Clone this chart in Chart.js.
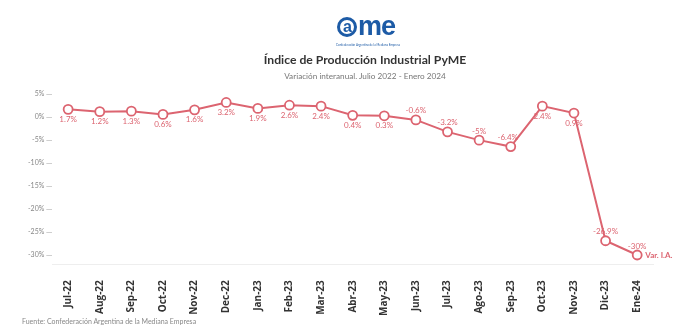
<!DOCTYPE html>
<html>
<head>
<meta charset="utf-8">
<script src="https://cdn.jsdelivr.net/npm/chart.js@4.4.1/dist/chart.umd.min.js"></script>
<style>
  html, body { margin: 0; padding: 0; background: #fff; }
  body { width: 686px; height: 333px; position: relative; overflow: hidden; font-family: Lato, "Open Sans", sans-serif; }
  #wrap { position: absolute; left: 0; top: 0; width: 686px; height: 333px; }
  .logo { position: absolute; left: 336px; top: 12px; width: 60px; text-align: center; color: #1d5ba6; }
  .logo .word { font: bold 27px/28px Arial, "Liberation Sans", sans-serif; letter-spacing: -1px; }
  .logo .word span { display: inline-block; border: 3px solid #1d5ba6; border-radius: 50%; width: 14px; height: 14px; line-height: 13px; font-size: 16px; vertical-align: 3px; margin-right: 1px; }
  .logo .tiny { font-size: 3px; line-height: 4px; margin-top: 3px; white-space: nowrap; }
  .title { position: absolute; left: 0; width: 730px; top: 52px; text-align: center; font-weight: bold; font-size: 12.2px; color: #333; }
  .sub { position: absolute; left: 0; width: 730px; top: 71px; text-align: center; font-size: 8.2px; color: #777; }
  .src { position: absolute; left: 22px; top: 317px; font-size: 7px; color: #888; }
</style>
</head>
<body>
<div id="wrap"><canvas id="chart" width="686" height="333"></canvas></div>
<div class="logo"><div class="word"><span>a</span>me</div><div class="tiny">Confederación Argentina de la Mediana Empresa</div></div>
<div class="title">Índice de Producción Industrial PyME</div>
<div class="sub">Variación interanual. Julio 2022 - Enero 2024</div>
<div class="src">Fuente: Confederación Argentina de la Mediana Empresa</div>
<script>
document.addEventListener('DOMContentLoaded', () => {
    // meses y variación interanual (%)
    const months = ['Jul-22', 'Aug-22', 'Sep-22', 'Oct-22', 'Nov-22', 'Dec-22', 'Jan-23', 'Feb-23', 'Mar-23',
        'Abr-23', 'May-23', 'Jun-23', 'Jul-23', 'Ago-23', 'Sep-23', 'Oct-23', 'Nov-23', 'Dic-23', 'Ene-24'];
    const variation = [1.7, 1.2, 1.3, 0.6, 1.6, 3.2, 1.9, 2.6, 2.4, 0.4, 0.3, -0.6, -3.2, -5, -6.4, 2.4, 0.9, -26.9, -30];
    const seriesName = 'Var. I.A.';
    const yTicks = [5, 0, -5, -10, -15, -20, -25, -30];

    const red = '#dc6470';

    // etiquetas de valor: positivos abajo, negativos arriba
    const valueLabels = {
        id: 'valueLabels',
        afterDatasetsDraw(chart) {
            const ctx = chart.ctx;
            const meta = chart.getDatasetMeta(0);
            ctx.save();
            ctx.fillStyle = red;
            ctx.font = '8px Lato, "Open Sans", sans-serif';
            ctx.textAlign = 'center';
            meta.data.forEach((pt, i) => {
                const v = variation[i];
                const txt = v + '%';
                if (v >= 0) {
                    ctx.textBaseline = 'top';
                    ctx.fillText(txt, pt.x, pt.y + 6);
                } else {
                    ctx.textBaseline = 'bottom';
                    ctx.fillText(txt, pt.x - (i === 14 ? 3 : 0), pt.y - 5);
                }
            });
            // nombre de la serie junto al último punto
            const last = meta.data[meta.data.length - 1];
            ctx.textAlign = 'left';
            ctx.textBaseline = 'middle';
            ctx.font = 'bold 8px Lato, "Open Sans", sans-serif';
            ctx.fillText(seriesName, last.x + 8, last.y);
            ctx.restore();
        }
    };

    new Chart(document.getElementById('chart'), {
        type: 'line',
        data: {
            labels: months,
            datasets: [{
                label: seriesName,
                data: variation,
                borderColor: red,
                borderWidth: 2,
                backgroundColor: '#fff',
                pointBackgroundColor: '#fff',
                pointBorderColor: red,
                pointBorderWidth: 1.8,
                pointRadius: 4.5,
                tension: 0
            }]
        },
        options: {
            responsive: false,
            animation: false,
            layout: { padding: { top: 85, left: 26, right: 33, bottom: 9 } },
            plugins: { legend: { display: false }, tooltip: { enabled: false } },
            scales: {
                x: {
                    offset: true,
                    grid: { display: false },
                    border: { display: true, color: '#eeeeee' },
                    ticks: {
                        minRotation: 90, maxRotation: 90, autoSkip: false,
                        color: '#333',
                        font: { family: '"Open Sans", Lato, sans-serif', size: 10, weight: 'bold' },
                        padding: 8
                    }
                },
                y: {
                    min: -32, max: 7,
                    afterBuildTicks(axis) {
                        axis.ticks = yTicks.map(v => ({ value: v }));
                    },
                    grid: { drawOnChartArea: false, drawTicks: true, tickLength: 6, color: '#cfcfcf' },
                    border: { display: false },
                    ticks: {
                        color: '#888',
                        font: { family: 'Lato, sans-serif', size: 7 },
                        padding: 2,
                        callback: v => v + '%'
                    }
                }
            }
        },
        plugins: [valueLabels]
    });
});
</script>
</body>
</html>
